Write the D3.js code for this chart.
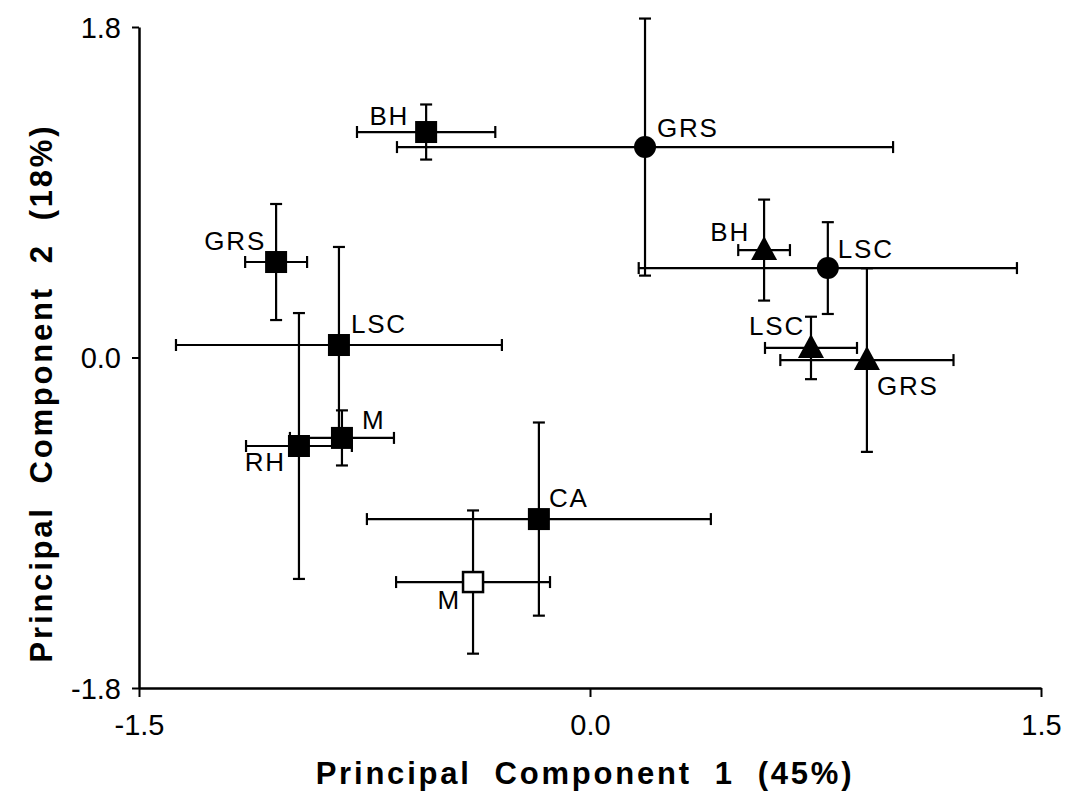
<!DOCTYPE html>
<html>
<head>
<meta charset="utf-8">
<script src="https://cdn.jsdelivr.net/npm/d3@7"></script>
<style>
  html, body { margin: 0; padding: 0; background: #fff; }
  svg { display: block; }
  text { font-family: "Liberation Sans", Arial, Helvetica, sans-serif; fill: #000; }
</style>
</head>
<body>
<svg id="chart" width="1072" height="793"></svg>
<script>
// Group labels, marker shapes and PCA scores (mean ± error on each component)
const labels  = ["BH", "GRS", "LSC", "M", "RH", "CA", "M", "GRS", "LSC", "BH", "LSC", "GRS"];
const shapes  = ["square", "square", "square", "square", "square", "square", "openSquare",
                 "circle", "circle", "triangle", "triangle", "triangle"];
const pc1     = [-0.545, -1.044, -0.835, -0.825, -0.968, -0.170, -0.389, 0.183, 0.791, 0.579, 0.735, 0.921];
const pc1Err  = [ 0.230,  0.103,  0.542,  0.173,  0.176,  0.572,  0.256, 0.825, 0.629, 0.086, 0.153, 0.288];
const pc2     = [ 1.228,  0.520,  0.068, -0.438, -0.482, -0.880, -1.223, 1.146, 0.487, 0.585, 0.052, -0.014];
const pc2Err  = [ 0.150,  0.316,  0.534,  0.150,  0.724,  0.526,  0.390, 0.700, 0.250, 0.275, 0.170, 0.500];
// Label placement relative to the marker: [dx, dy, anchor]
const labelPos = [
  [-17, -7, "end"], [-10, -12, "end"], [12, -12, "start"], [20, -9, "start"],
  [-13, 25, "end"], [10, -12, "start"], [-12, 27, "end"], [12, -10, "start"],
  [10, -10, "start"], [-14, -9, "end"], [-6, -13, "end"], [10, 35, "start"]
];

const xTicks = [-1.5, 0.0, 1.5];
const yTicks = [-1.8, 0.0, 1.8];
const xTitle = "Principal  Component  1  (45%)";
const yTitle = "Principal  Component  2  (18%)";

const svg = d3.select("#chart");
const x = d3.scaleLinear().domain([-1.5, 1.5]).range([139, 1041]);
const y = d3.scaleLinear().domain([-1.8, 1.8]).range([688, 27]);

const fmt = d => d.toFixed(1);

// Axes
const xAxis = svg.append("g").attr("transform", `translate(0,${y(-1.8)})`)
  .call(d3.axisBottom(x).tickValues(xTicks).tickFormat(fmt).tickSizeInner(9).tickSizeOuter(0).tickPadding(17));
const yAxis = svg.append("g").attr("transform", `translate(${x(-1.5)},0)`)
  .call(d3.axisLeft(y).tickValues(yTicks).tickFormat(fmt).tickSizeInner(7).tickSizeOuter(0).tickPadding(11));
[xAxis, yAxis].forEach(g => {
  g.select(".domain").attr("stroke", "#000").attr("stroke-width", 2.5);
  g.selectAll(".tick line").attr("stroke", "#000").attr("stroke-width", 2);
  g.selectAll(".tick text").style("font-size", "29px").attr("fill", "#000");
});
yAxis.selectAll(".tick text").attr("dy", "0.36em");

// Axis titles
svg.append("text")
  .attr("x", 585).attr("y", 784)
  .attr("text-anchor", "middle")
  .style("font-size", "31px").style("font-weight", "bold")
  .style("letter-spacing", "2.8px").style("white-space", "pre")
  .text(xTitle);
svg.append("text")
  .attr("transform", `translate(52,393) rotate(-90)`)
  .attr("text-anchor", "middle")
  .style("font-size", "31px").style("font-weight", "bold")
  .style("letter-spacing", "2.8px").style("white-space", "pre")
  .text(yTitle);

const data = labels.map((l, i) => ({
  label: l, shape: shapes[i], x: pc1[i], xe: pc1Err[i], y: pc2[i], ye: pc2Err[i], lp: labelPos[i]
}));

// Error bars with end caps
const cap = 6;
const bars = svg.append("g").attr("stroke", "#000").attr("stroke-width", 2.2).attr("fill", "none");
data.forEach(d => {
  const cx = x(d.x), cy = y(d.y);
  const x0 = x(d.x - d.xe), x1 = x(d.x + d.xe);
  const y0 = y(d.y + d.ye), y1 = y(d.y - d.ye);
  bars.append("line").attr("x1", x0).attr("x2", x1).attr("y1", cy).attr("y2", cy);
  bars.append("line").attr("x1", x0).attr("x2", x0).attr("y1", cy - cap).attr("y2", cy + cap);
  bars.append("line").attr("x1", x1).attr("x2", x1).attr("y1", cy - cap).attr("y2", cy + cap);
  bars.append("line").attr("x1", cx).attr("x2", cx).attr("y1", y0).attr("y2", y1);
  bars.append("line").attr("x1", cx - cap).attr("x2", cx + cap).attr("y1", y0).attr("y2", y0);
  bars.append("line").attr("x1", cx - cap).attr("x2", cx + cap).attr("y1", y1).attr("y2", y1);
});

// Markers
const marks = svg.append("g");
data.forEach(d => {
  const cx = x(d.x), cy = y(d.y);
  if (d.shape === "square") {
    marks.append("rect").attr("x", cx - 11).attr("y", cy - 11).attr("width", 22).attr("height", 22).attr("fill", "#000");
  } else if (d.shape === "openSquare") {
    marks.append("rect").attr("x", cx - 10).attr("y", cy - 10).attr("width", 20).attr("height", 20)
      .attr("fill", "#fff").attr("stroke", "#000").attr("stroke-width", 2.5);
  } else if (d.shape === "circle") {
    marks.append("circle").attr("cx", cx).attr("cy", cy).attr("r", 11).attr("fill", "#000");
  } else {
    marks.append("path")
      .attr("d", `M${cx},${cy - 14}L${cx + 13},${cy + 10}L${cx - 13},${cy + 10}Z`)
      .attr("fill", "#000");
  }
});

// Group labels
svg.append("g").selectAll("text").data(data).join("text")
  .attr("x", d => x(d.x) + d.lp[0])
  .attr("y", d => y(d.y) + d.lp[1])
  .attr("text-anchor", d => d.lp[2])
  .style("font-size", "26px")
  .style("letter-spacing", "1.8px")
  .text(d => d.label);
</script>
</body>
</html>
